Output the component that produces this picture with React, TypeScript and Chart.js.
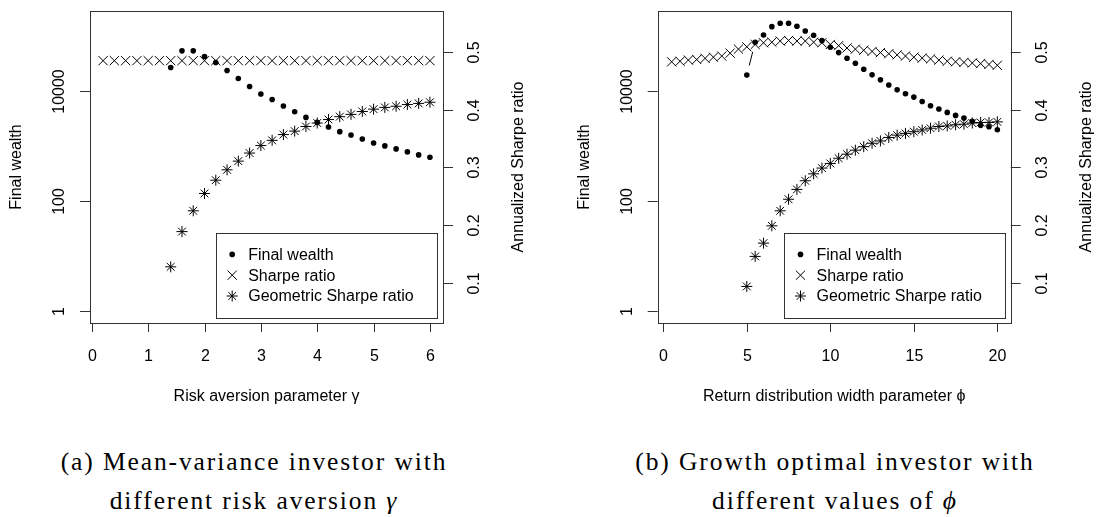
import React, { useEffect, useRef } from 'react';
import { Chart, registerables } from 'chart.js';

Chart.register(...registerables);

// ---------- Panel (a): mean-variance investor ----------
const gammaSharpe = [0.2, 0.4, 0.6, 0.8, 1.0, 1.2, 1.4, 1.6, 1.8, 2.0, 2.2, 2.4, 2.6, 2.8, 3.0, 3.2, 3.4, 3.6, 3.8, 4.0, 4.2, 4.4, 4.6, 4.8, 5.0, 5.2, 5.4, 5.6, 5.8, 6.0];
const sharpeA = [0.485, 0.485, 0.485, 0.485, 0.485, 0.485, 0.485, 0.485, 0.485, 0.485, 0.485, 0.485, 0.485, 0.485, 0.485, 0.485, 0.485, 0.485, 0.485, 0.485, 0.485, 0.485, 0.485, 0.485, 0.485, 0.485, 0.485, 0.485, 0.485, 0.485];
const gammaWealth = [1.4, 1.6, 1.8, 2.0, 2.2, 2.4, 2.6, 2.8, 3.0, 3.2, 3.4, 3.6, 3.8, 4.0, 4.2, 4.4, 4.6, 4.8, 5.0, 5.2, 5.4, 5.6, 5.8, 6.0];
const wealthA = [27300, 55000, 55000, 43300, 33700, 24100, 17200, 12300, 8970, 7160, 5430, 4270, 3370, 2730, 2250, 1850, 1610, 1360, 1150, 1017, 897, 791, 698, 631];
const geoA = [0.128, 0.189, 0.225, 0.255, 0.278, 0.296, 0.311, 0.325, 0.338, 0.347, 0.357, 0.363, 0.371, 0.377, 0.383, 0.388, 0.392, 0.397, 0.401, 0.404, 0.406, 0.409, 0.411, 0.413];
const xTicksA = [0, 1, 2, 3, 4, 5, 6];

// ---------- Panel (b): growth optimal investor ----------
const phiSharpe = [0.5, 1.0, 1.5, 2.0, 2.5, 3.0, 3.5, 4.0, 4.5, 5.0, 5.5, 6.0, 6.5, 7.0, 7.5, 8.0, 8.5, 9.0, 9.5, 10.0, 10.5, 11.0, 11.5, 12.0, 12.5, 13.0, 13.5, 14.0, 14.5, 15.0, 15.5, 16.0, 16.5, 17.0, 17.5, 18.0, 18.5, 19.0, 19.5, 20.0];
const sharpeB = [0.483, 0.484, 0.486, 0.487, 0.489, 0.491, 0.493, 0.498, 0.505, 0.509, 0.513, 0.516, 0.517, 0.519, 0.520, 0.519, 0.519, 0.517, 0.516, 0.513, 0.511, 0.507, 0.505, 0.503, 0.501, 0.499, 0.497, 0.495, 0.493, 0.491, 0.4895, 0.488, 0.486, 0.484, 0.483, 0.482, 0.481, 0.480, 0.4785, 0.477];
const phiWealth = [5.0, 5.5, 6.0, 6.5, 7.0, 7.5, 8.0, 8.5, 9.0, 9.5, 10.0, 10.5, 11.0, 11.5, 12.0, 12.5, 13.0, 13.5, 14.0, 14.5, 15.0, 15.5, 16.0, 16.5, 17.0, 17.5, 18.0, 18.5, 19.0, 19.5, 20.0];
const wealthB = [19900, 79100, 107000, 152000, 175000, 175000, 155000, 127000, 106000, 84600, 64100, 51200, 40400, 32800, 25500, 20100, 16300, 13100, 10700, 9080, 7900, 6580, 5500, 4790, 4150, 3660, 3280, 2850, 2410, 2280, 2010];
const geoB = [0.094, 0.146, 0.169, 0.199, 0.225, 0.245, 0.262, 0.277, 0.289, 0.299, 0.307, 0.316, 0.323, 0.330, 0.336, 0.342, 0.346, 0.352, 0.356, 0.359, 0.362, 0.365, 0.368, 0.371, 0.372, 0.374, 0.375, 0.377, 0.378, 0.378, 0.379];
const xTicksB = [0, 5, 10, 15, 20];

// ---------- shared axes ----------
const wealthTicks = [1, 100, 10000];
const wealthTickLabels = ['1', '100', '10000'];
const sharpeTicks = [0.1, 0.2, 0.3, 0.4, 0.5];
const sharpeTickLabels = ['0.1', '0.2', '0.3', '0.4', '0.5'];
const legendLabels = ['Final wealth', 'Sharpe ratio', 'Geometric Sharpe ratio'];
const legendStyles = ['circle', 'crossRot', 'star'];

const SANS = '"Liberation Sans", Arial, Helvetica, sans-serif';
const FS = 16;
const AX = '#333';

function drawMarker(ctx: CanvasRenderingContext2D, style: string, x: number, y: number) {
  ctx.save();
  ctx.strokeStyle = '#000';
  ctx.fillStyle = '#000';
  ctx.lineWidth = 1;
  if (style === 'circle') {
    ctx.beginPath();
    ctx.arc(x, y, 2.8, 0, Math.PI * 2);
    ctx.fill();
  } else {
    const r = style === 'star' ? 5.5 : 6.5;
    const d = r * Math.SQRT1_2;
    ctx.beginPath();
    ctx.moveTo(x - d, y - d); ctx.lineTo(x + d, y + d);
    ctx.moveTo(x - d, y + d); ctx.lineTo(x + d, y - d);
    if (style === 'star') {
      ctx.moveTo(x - r, y); ctx.lineTo(x + r, y);
      ctx.moveTo(x, y - r); ctx.lineTo(x, y + r);
    }
    ctx.stroke();
  }
  ctx.restore();
}

type PanelCfg = {
  xTicks: number[];
  xTitle: string;
  xMin: number;
  xMax: number;
  padLeft: number;
  padRight: number;
  typeB: boolean;
  legendRight: number;
};

function makePlugin(cfg: PanelCfg) {
  return {
    id: 'rStyleAxes',
    beforeDatasetsDraw(chart: any) {
      const ctx: CanvasRenderingContext2D = chart.ctx;
      const { left, right, top, bottom } = chart.chartArea;
      const xs = chart.scales.x;
      const yl = chart.scales.yL;
      const yr = chart.scales.yR;
      ctx.save();
      ctx.strokeStyle = AX;
      ctx.lineWidth = 1;
      ctx.strokeRect(Math.round(left) + 0.5, Math.round(top) + 0.5, Math.round(right - left), Math.round(bottom - top));
      ctx.fillStyle = '#000';
      ctx.font = `${FS}px ${SANS}`;
      ctx.textAlign = 'center';
      ctx.textBaseline = 'middle';
      // x axis
      cfg.xTicks.forEach((v) => {
        const px = Math.round(xs.getPixelForValue(v)) + 0.5;
        ctx.beginPath();
        ctx.moveTo(px, bottom);
        ctx.lineTo(px, bottom + 9);
        ctx.stroke();
        ctx.fillText(String(v), px, bottom + 34);
      });
      ctx.fillText(cfg.xTitle, (left + right) / 2, bottom + 74);
      // left axis (log)
      wealthTicks.forEach((v, i) => {
        const py = Math.round(yl.getPixelForValue(v)) + 0.5;
        ctx.beginPath();
        ctx.moveTo(left, py);
        ctx.lineTo(left - 10, py);
        ctx.stroke();
        ctx.save();
        ctx.translate(left - 30, py);
        ctx.rotate(-Math.PI / 2);
        ctx.fillText(wealthTickLabels[i], 0, 0);
        ctx.restore();
      });
      // right axis
      sharpeTicks.forEach((v, i) => {
        const py = Math.round(yr.getPixelForValue(v)) + 0.5;
        ctx.beginPath();
        ctx.moveTo(right, py);
        ctx.lineTo(right + 10, py);
        ctx.stroke();
        ctx.save();
        ctx.translate(right + 32, py);
        ctx.rotate(-Math.PI / 2);
        ctx.fillText(sharpeTickLabels[i], 0, 0);
        ctx.restore();
      });
      const midY = (top + bottom) / 2;
      ctx.save();
      ctx.translate(left - 73, midY);
      ctx.rotate(-Math.PI / 2);
      ctx.fillText('Final wealth', 0, 0);
      ctx.restore();
      ctx.save();
      ctx.translate(right + 76, midY);
      ctx.rotate(-Math.PI / 2);
      ctx.fillText('Annualized Sharpe ratio', 0, 0);
      ctx.restore();
      ctx.restore();
    },
    afterDatasetsDraw(chart: any) {
      const ctx: CanvasRenderingContext2D = chart.ctx;
      const { right, bottom } = chart.chartArea;
      ctx.save();
      // type "b" connecting segments with gaps for final wealth
      if (cfg.typeB) {
        const pts = chart.getDatasetMeta(0).data;
        const gap = 10;
        ctx.strokeStyle = '#000';
        ctx.lineWidth = 1;
        for (let i = 1; i < pts.length; i++) {
          const a = pts[i - 1], b = pts[i];
          const dx = b.x - a.x, dy = b.y - a.y;
          const d = Math.sqrt(dx * dx + dy * dy);
          if (d > 2 * gap + 2) {
            const f = gap / d;
            ctx.beginPath();
            ctx.moveTo(a.x + dx * f, a.y + dy * f);
            ctx.lineTo(b.x - dx * f, b.y - dy * f);
            ctx.stroke();
          }
        }
      }
      // legend
      const w = 221, h = 85;
      const lx = right - cfg.legendRight - w;
      const ly = bottom - 5.3 - h;
      ctx.strokeStyle = AX;
      ctx.lineWidth = 1;
      ctx.strokeRect(Math.round(lx) + 0.5, Math.round(ly) + 0.5, w, h);
      ctx.font = `${FS}px ${SANS}`;
      ctx.fillStyle = '#000';
      ctx.textAlign = 'left';
      ctx.textBaseline = 'middle';
      legendLabels.forEach((lab, i) => {
        const yy = ly + 21.7 + i * 20.8;
        drawMarker(ctx, legendStyles[i], lx + 16.5, yy);
        ctx.fillText(lab, lx + 32.5, yy + 1);
      });
      ctx.restore();
    },
  };
}

function Panel(props: {
  xW: number[]; wealth: number[]; xS: number[]; sharpe: number[]; geo: number[]; cfg: PanelCfg;
}) {
  const ref = useRef<HTMLCanvasElement>(null);
  useEffect(() => {
    const { xW, wealth, xS, sharpe, geo, cfg } = props;
    const chart = new Chart(ref.current as HTMLCanvasElement, {
      type: 'scatter',
      data: {
        datasets: [
          {
            label: legendLabels[0],
            data: xW.map((x, i) => ({ x, y: wealth[i] })),
            yAxisID: 'yL',
            pointStyle: 'circle',
            pointRadius: 2.8,
            pointBorderWidth: 0,
            backgroundColor: '#000',
            borderColor: '#000',
          },
          {
            label: legendLabels[1],
            data: xS.map((x, i) => ({ x, y: sharpe[i] })),
            yAxisID: 'yR',
            pointStyle: 'crossRot',
            pointRadius: 6.5,
            pointBorderWidth: 1,
            backgroundColor: '#000',
            borderColor: '#000',
          },
          {
            label: legendLabels[2],
            data: xW.map((x, i) => ({ x, y: geo[i] })),
            yAxisID: 'yR',
            pointStyle: 'star',
            pointRadius: 5.5,
            pointBorderWidth: 1,
            backgroundColor: '#000',
            borderColor: '#000',
          },
        ],
      },
      options: {
        animation: false,
        responsive: false,
        events: [],
        layout: { padding: { left: cfg.padLeft, right: cfg.padRight, top: 11, bottom: 97 } },
        plugins: { legend: { display: false }, tooltip: { enabled: false } },
        scales: {
          x: { type: 'linear', display: false, min: cfg.xMin, max: cfg.xMax, bounds: 'data' },
          yL: { type: 'logarithmic', display: false, position: 'left', min: 0.6228, max: 293400 },
          yR: { type: 'linear', display: false, position: 'right', min: 0.0307, max: 0.571, bounds: 'data' },
        },
      },
      plugins: [makePlugin(cfg)],
    } as any);
    return () => chart.destroy();
  }, []);
  return <canvas ref={ref} width={548} height={420} style={{ width: 548, height: 420, display: 'block' }} />;
}

const cfgA: PanelCfg = {
  xTicks: xTicksA,
  xTitle: 'Risk aversion parameter \u03B3',
  xMin: -0.032,
  xMax: 6.232,
  padLeft: 90,
  padRight: 105,
  typeB: false,
  legendRight: 6.3,
};

const cfgB: PanelCfg = {
  xTicks: xTicksB,
  xTitle: 'Return distribution width parameter \u03D5',
  xMin: -0.335,
  xMax: 20.8,
  padLeft: 109.7,
  padRight: 85.3,
  typeB: true,
  legendRight: 5.7,
};

const captionStyle: React.CSSProperties = {
  position: 'absolute',
  top: 442,
  width: 508,
  textAlign: 'center',
  fontFamily: '"Liberation Serif", "Times New Roman", serif',
  fontSize: 25.5,
  lineHeight: '39px',
  letterSpacing: '1.9px',
  color: '#000',
};

export default function App() {
  return (
    <div style={{ position: 'absolute', left: 0, top: 0, width: 1096, height: 517, background: '#fff', overflow: 'hidden' }}>
      <div style={{ position: 'absolute', left: 0, top: 0 }}>
        <Panel xW={gammaWealth} wealth={wealthA} xS={gammaSharpe} sharpe={sharpeA} geo={geoA} cfg={cfgA} />
      </div>
      <div style={{ position: 'absolute', left: 548, top: 0 }}>
        <Panel xW={phiWealth} wealth={wealthB} xS={phiSharpe} sharpe={sharpeB} geo={geoB} cfg={cfgB} />
      </div>
      <div style={{ ...captionStyle, left: 0 }}>
        (a) Mean-variance investor with<br />different risk aversion <i>γ</i>
      </div>
      <div style={{ ...captionStyle, left: 581 }}>
        (b) Growth optimal investor with<br />different values of <i>ϕ</i>
      </div>
    </div>
  );
}
